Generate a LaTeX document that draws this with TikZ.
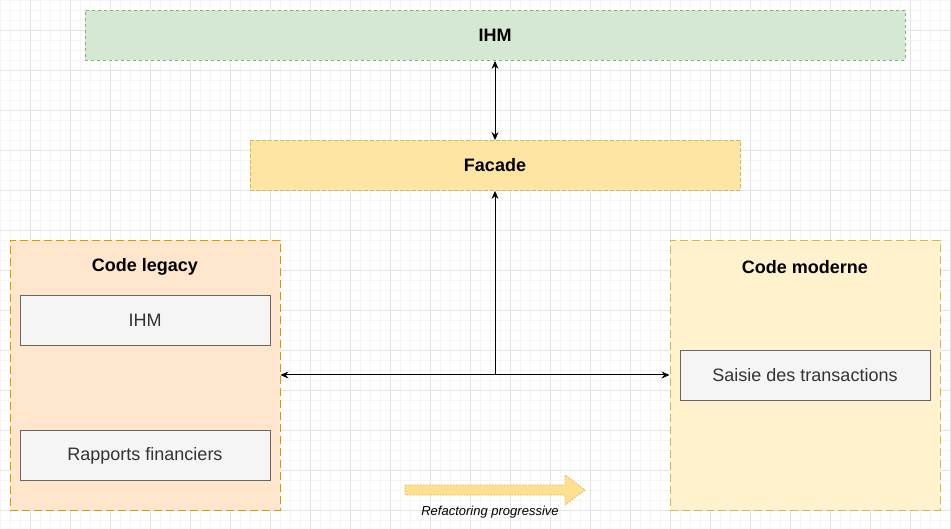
\documentclass[tikz,border=0pt]{standalone}
\usepackage{fontspec}
\setmainfont{Liberation Sans}
\usetikzlibrary{arrows.meta}
\definecolor{gmin}{HTML}{F4F4F4}
\definecolor{gmaj}{HTML}{E3E3E3}
\definecolor{greenF}{HTML}{D5E8D4}
\definecolor{greenS}{HTML}{82B366}
\definecolor{yelF}{HTML}{FFE5A3}
\definecolor{yelS}{HTML}{D6B656}
\definecolor{orF}{HTML}{FFE6CC}
\definecolor{orS}{HTML}{D79B00}
\definecolor{ltyF}{HTML}{FFF2CC}
\definecolor{grF}{HTML}{F5F5F5}
\definecolor{grS}{HTML}{666666}
\definecolor{grT}{HTML}{333333}
\definecolor{arrF}{HTML}{FFE08F}
\tikzset{
  box/.style={rectangle, minimum height=50pt, inner sep=0pt, line width=0.8pt, dash pattern=on 3pt off 3pt},
  cont/.style={box, dash pattern=on 8pt off 4pt, line width=0.9pt},
  title/.style={font=\fontsize{18}{21}\selectfont\bfseries},
  inner/.style={rectangle, draw=grS, fill=grF, text=grT, minimum width=250pt, minimum height=50pt, inner sep=0pt, line width=0.8pt, font=\fontsize{18}{21}\selectfont},
  con/.style={line width=1pt, {Stealth[length=8pt,width=7pt]}-{Stealth[length=8pt,width=7pt]}},
}
\begin{document}
\begin{tikzpicture}[x=1pt,y=-1pt]
\useasboundingbox (0,0) rectangle (951,529);
\fill[white] (0,0) rectangle (951,529);
% grid
\foreach \i in {0,10,...,950} \draw[gmin,line width=0.6pt] (\i,0) -- (\i,529);
\foreach \i in {0,10,...,520} \draw[gmin,line width=0.6pt] (0,\i) -- (951,\i);
\foreach \i in {30,70,...,950} \draw[gmaj,line width=0.8pt] (\i,0) -- (\i,529);
\foreach \i in {30,70,...,520} \draw[gmaj,line width=0.8pt] (0,\i) -- (951,\i);

% top IHM
\node[box, draw=greenS, fill=greenF, minimum width=820pt, title] (ihm) at (495,35.5) {IHM};
% facade
\node[box, draw=yelS, fill=yelF, minimum width=490pt, title, dash pattern=on 4pt off 2pt] (facade) at (495,165.5) {Facade};
% legacy container
\node[cont, draw=orS, fill=orF, minimum width=270pt, minimum height=270pt] (legacy) at (145,375) {};
\node[title, anchor=center] (legT) at (145,267) {Code legacy};
\node[inner] (lihm) at (145,320.5) {IHM};
\node[inner] (rapp) at (145,455.5) {\raisebox{-1.5pt}{Rapports financiers}};
% moderne container
\node[cont, draw=yelS, fill=ltyF, minimum width=270pt, minimum height=270pt] (moderne) at (805,375) {};
\node[title, anchor=center] (modT) at (805,267) {Code moderne};
\node[inner] (saisie) at (805,375.5) {Saisie des transactions};

% connectors
\draw[con] (ihm.south) -- (facade.north);
\coordinate (j) at (495,375);
\draw[con] (legacy.east |- j) -- (moderne.west |- j);
\draw[line width=1pt, -{Stealth[length=8pt,width=7pt]}] (j) -- (facade.south);

% block arrow
\draw[draw=yelS, fill=arrF, line width=0.8pt, dash pattern=on 1.5pt off 1.5pt]
  (405,485) -- (565,485) -- (565,475) -- (585,490) -- (565,505) -- (565,495) -- (405,495) -- cycle;
\node[font=\fontsize{13}{15}\selectfont\itshape] (refac) at (490,512) {Refactoring progressive};
\end{tikzpicture}
\end{document}
